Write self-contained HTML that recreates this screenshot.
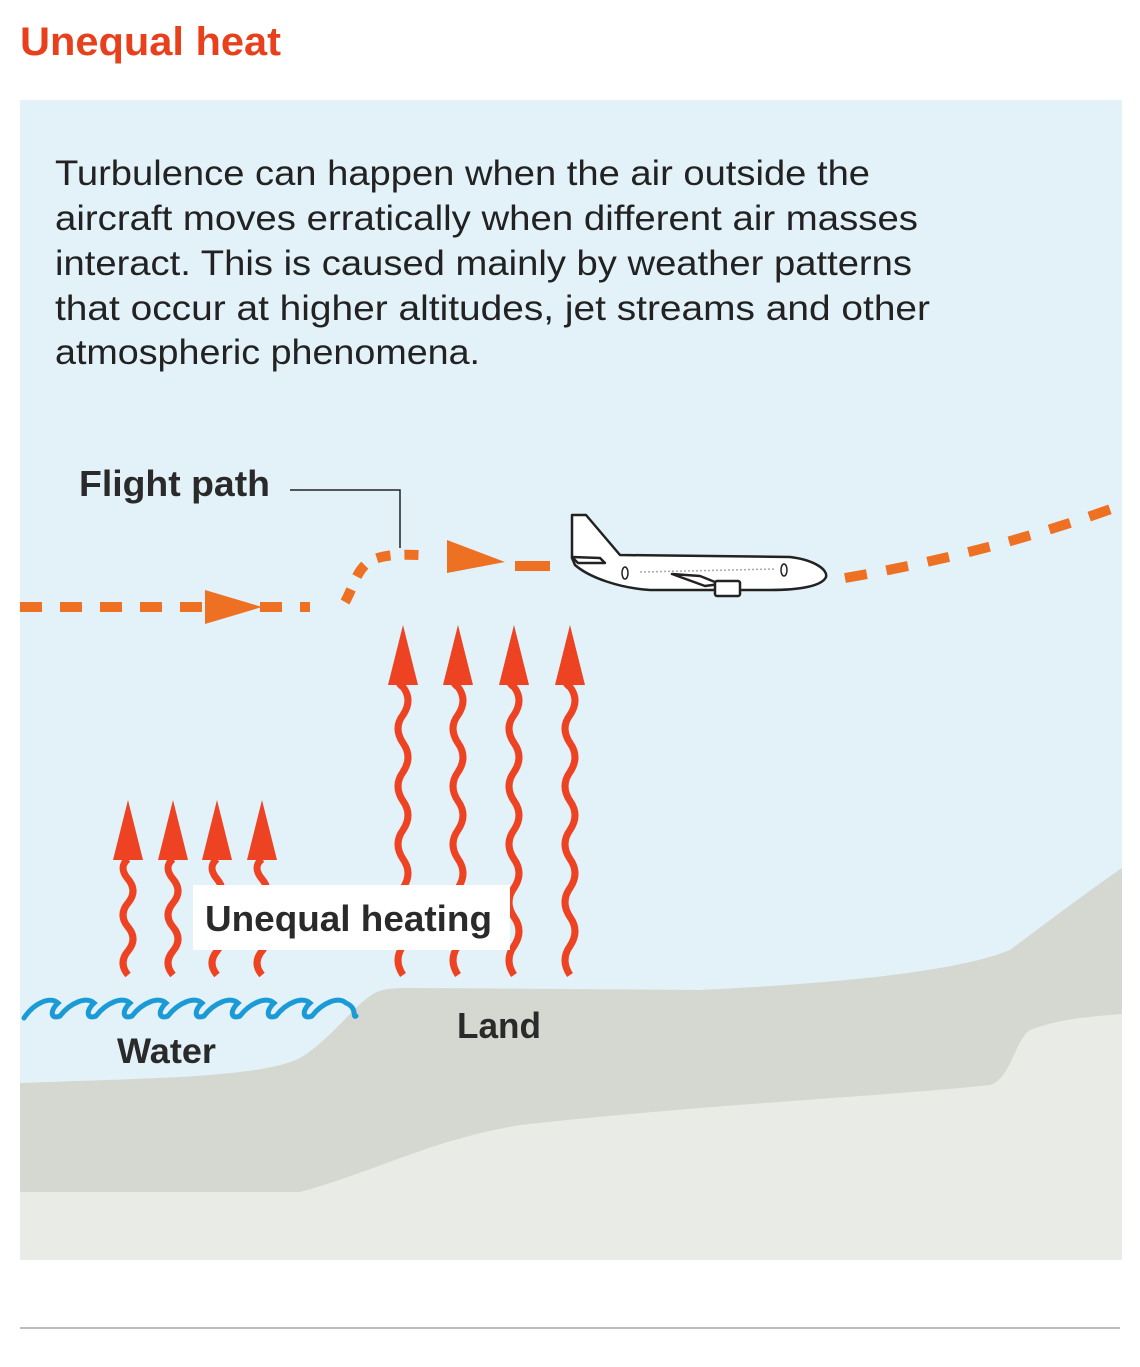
<!DOCTYPE html>
<html><head><style>
html,body{margin:0;padding:0;background:#fff;width:1140px;height:1367px;overflow:hidden}
body{font-family:"Liberation Sans",sans-serif}
</style></head><body>
<svg width="1140" height="1367" viewBox="0 0 1140 1367" xmlns="http://www.w3.org/2000/svg">
<text x="20" y="55" font-family="Liberation Sans, sans-serif" font-weight="bold" font-size="40" fill="#e8401c" textLength="261" lengthAdjust="spacingAndGlyphs">Unequal heat</text>
<rect x="20" y="100" width="1102" height="1160" fill="#e3f1f8"/>
<g font-family="Liberation Sans, sans-serif" font-size="35" fill="#222" lengthAdjust="spacingAndGlyphs">
<text x="55" y="185" textLength="815" lengthAdjust="spacingAndGlyphs">Turbulence can happen when the air outside the</text>
<text x="55" y="230" textLength="863" lengthAdjust="spacingAndGlyphs">aircraft moves erratically when different air masses</text>
<text x="55" y="275" textLength="857" lengthAdjust="spacingAndGlyphs">interact. This is caused mainly by weather patterns</text>
<text x="55" y="320" textLength="875" lengthAdjust="spacingAndGlyphs">that occur at higher altitudes, jet streams and other</text>
<text x="55" y="364" textLength="425" lengthAdjust="spacingAndGlyphs">atmospheric phenomena.</text>
</g>
<path d="M20,1083 C150,1078 260,1078 300,1058 C330,1040 350,1010 370,996 C380,988 395,988 410,988 L700,990 C800,985 950,975 1010,950 C1050,920 1090,890 1122,868 L1122,1260 L20,1260 Z" fill="#d5d8d1"/>
<path d="M20,1192 L300,1192 C380,1170 430,1140 520,1125 C700,1105 900,1095 990,1085 C1010,1080 1015,1040 1030,1030 C1060,1018 1100,1016 1122,1014 L1122,1260 L20,1260 Z" fill="#e9ebe6"/>
<path d="M24,1018 C34,1003 50,996 58,1003 C50,1010 50,1020 60,1016 C70,1003 86,996 94,1003 C86,1010 86,1020 96,1016 C106,1003 122,996 130,1003 C122,1010 122,1020 132,1016 C142,1003 158,996 166,1003 C158,1010 158,1020 168,1016 C178,1003 194,996 202,1003 C194,1010 194,1020 204,1016 C214,1003 230,996 238,1003 C230,1010 230,1020 240,1016 C250,1003 266,996 274,1003 C266,1010 266,1020 276,1016 C286,1003 302,996 310,1003 C302,1010 302,1020 312,1016 C322,1003 338,996 346,1003 C358,1008 352,1018 356,1016" fill="none" stroke="#1a9ad6" stroke-width="5" stroke-linecap="round"/>
<g fill="none" stroke="#ee4322" stroke-width="7">
<path d="M128,975 q-10,-12 0,-24 q10,-12 0,-24 q-10,-12 0,-24 q10,-12 0,-24 q-10,-12 0,-20"/>
<path d="M173,975 q-10,-12 0,-24 q10,-12 0,-24 q-10,-12 0,-24 q10,-12 0,-24 q-10,-12 0,-20"/>
<path d="M217,975 q-10,-12 0,-24 q10,-12 0,-24 q-10,-12 0,-24 q10,-12 0,-24 q-10,-12 0,-20"/>
<path d="M262,975 q-10,-12 0,-24 q10,-12 0,-24 q-10,-12 0,-24 q10,-12 0,-24 q-10,-12 0,-20"/>
<path d="M403,975 q-10,-15 0,-29 q10,-15 0,-29 q-10,-15 0,-29 q10,-15 0,-29 q-10,-15 0,-29 q10,-15 0,-29 q-10,-15 0,-29 q10,-15 0,-29 q-10,-15 0,-28 q10,-15 0,-28 q-8,-5 0,-10"/>
<path d="M458,975 q-10,-15 0,-29 q10,-15 0,-29 q-10,-15 0,-29 q10,-15 0,-29 q-10,-15 0,-29 q10,-15 0,-29 q-10,-15 0,-29 q10,-15 0,-29 q-10,-15 0,-28 q10,-15 0,-28 q-8,-5 0,-10"/>
<path d="M514,975 q-10,-15 0,-29 q10,-15 0,-29 q-10,-15 0,-29 q10,-15 0,-29 q-10,-15 0,-29 q10,-15 0,-29 q-10,-15 0,-29 q10,-15 0,-29 q-10,-15 0,-28 q10,-15 0,-28 q-8,-5 0,-10"/>
<path d="M570,975 q-10,-15 0,-29 q10,-15 0,-29 q-10,-15 0,-29 q10,-15 0,-29 q-10,-15 0,-29 q10,-15 0,-29 q-10,-15 0,-29 q10,-15 0,-29 q-10,-15 0,-28 q10,-15 0,-28 q-8,-5 0,-10"/>
</g>
<g fill="#ee4322">
<path d="M128,800 L143,860 L113,860 Z"/><path d="M173,800 L188,860 L158,860 Z"/>
<path d="M217,800 L232,860 L202,860 Z"/><path d="M262,800 L277,860 L247,860 Z"/>
<path d="M403,625 L418,685 L388,685 Z"/><path d="M458,625 L473,685 L443,685 Z"/>
<path d="M514,625 L529,685 L499,685 Z"/><path d="M570,625 L585,685 L555,685 Z"/>
</g>
<rect x="193" y="885" width="317" height="65" fill="#fff"/>
<g font-family="Liberation Sans, sans-serif" font-weight="bold" fill="#2a2a2a">
<text x="205" y="931" font-size="36" textLength="287" lengthAdjust="spacingAndGlyphs">Unequal heating</text>
<text x="457" y="1038" font-size="36" textLength="84" lengthAdjust="spacingAndGlyphs">Land</text>
<text x="117" y="1063" font-size="35" textLength="99" lengthAdjust="spacingAndGlyphs">Water</text>
<text x="79" y="496" font-size="36" textLength="191" lengthAdjust="spacingAndGlyphs">Flight path</text>
</g>
<path d="M290,490 H400 V548" fill="none" stroke="#222" stroke-width="1.5"/>
<g fill="none" stroke="#ee7022" stroke-width="10">
<path d="M20,607 H310" stroke-dasharray="22,18"/>
<path d="M345,602 C352,590 355,575 365,565 C375,556 390,554 420,555" stroke-dasharray="14,14"/>
<path d="M515,566 H550"/>
<path d="M845,578 C950,560 1040,535 1122,505" stroke-dasharray="22,20"/>
</g>
<path d="M205,590 L262,607 L205,624 Z" fill="#ee7022"/>
<path d="M447,540 L505,562 L447,573 Z" fill="#ee7022"/>
<g stroke="#222" stroke-width="2.5" fill="#fff" stroke-linejoin="round">
<path d="M572,515 L586,515 L620,555 L790,557 C815,560 828,570 826,577 C822,586 800,590 770,590 L650,590 C620,588 590,578 575,565 L572,558 Z"/>
<path d="M572,557 L600,558 L605,563 L578,563 Z"/>
<path d="M672,574 L700,576 L720,584 L705,586 Z"/>
<rect x="715" y="581" width="25" height="15" rx="2"/>
</g>
<ellipse cx="625" cy="573" rx="3" ry="6" fill="none" stroke="#222" stroke-width="1.5"/>
<ellipse cx="784" cy="570" rx="3" ry="6" fill="none" stroke="#222" stroke-width="1.5"/>
<line x1="640" y1="572" x2="775" y2="569" stroke="#aaa" stroke-width="1.5" stroke-dasharray="2,2"/>
<line x1="20" y1="1328" x2="1120" y2="1328" stroke="#bbb" stroke-width="2"/>
</svg>
</body></html>
